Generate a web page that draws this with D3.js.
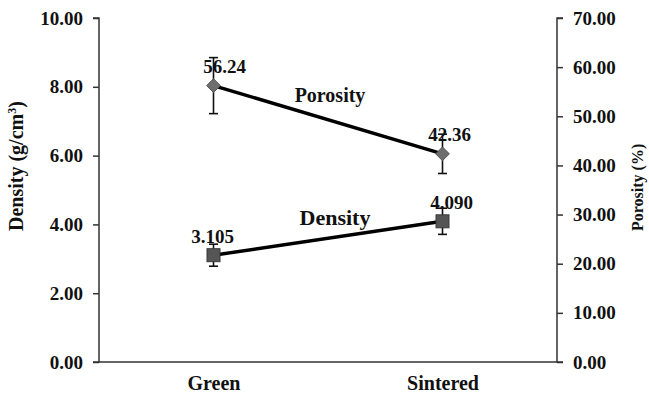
<!DOCTYPE html>
<html>
<head>
<meta charset="utf-8">
<script src="https://cdn.jsdelivr.net/npm/d3@7"></script>
<style>
  html, body { margin: 0; padding: 0; background: #fff; }
  svg { display: block; }
  text { font-family: "Liberation Serif", "Times New Roman", serif; font-weight: bold; fill: #111; }
</style>
</head>
<body>
<svg id="chart" width="649" height="393"></svg>
<script>
// Sample states and measured values
const categories = ["Green", "Sintered"];
const density = [3.105, 4.090];          // g/cm3
const densityErr = [0.32, 0.38];
const porosity = [56.24, 42.36];         // %
const porosityErr = [5.7, 4.0];
const densityLabels = ["3.105", "4.090"];
const porosityLabels = ["56.24", "42.36"];
const densityTicks = [0, 2, 4, 6, 8, 10];
const porosityTicks = [0, 10, 20, 30, 40, 50, 60, 70];

const svg = d3.select("#chart");
const plotLeft = 99, plotRight = 557, plotTop = 18, plotBottom = 362;

const x = d3.scalePoint().domain(categories).range([plotLeft, plotRight]).padding(0.5);
const yD = d3.scaleLinear().domain([0, 10]).range([plotBottom, plotTop]);
const yP = d3.scaleLinear().domain([0, 70]).range([plotBottom, plotTop]);

const axisColor = "#333";
const fs = 19;

// Left axis (density)
const gL = svg.append("g").attr("transform", `translate(${plotLeft},0)`)
  .call(d3.axisLeft(yD).tickValues(densityTicks).tickFormat(d3.format(".2f")).tickSize(6).tickPadding(10));
// Right axis (porosity)
const gR = svg.append("g").attr("transform", `translate(${plotRight},0)`)
  .call(d3.axisRight(yP).tickValues(porosityTicks).tickFormat(d3.format(".2f")).tickSize(6).tickPadding(10));
[gL, gR].forEach(g => {
  g.select(".domain").attr("stroke", axisColor).attr("stroke-width", 1.5)
    .attr("d", g === gL ? `M-6,${plotTop}H0V${plotBottom}H-6` : `M6,${plotTop}H0V${plotBottom}H6`);
  g.selectAll(".tick line").attr("stroke", axisColor).attr("stroke-width", 1.5);
  g.selectAll(".tick text").attr("font-size", fs).attr("fill", "#111")
    .attr("font-family", "Liberation Serif, serif").attr("font-weight", "bold");
});

// Category axis
const gX = svg.append("g").attr("transform", `translate(0,${plotBottom})`)
  .call(d3.axisBottom(x).tickSize(0).tickPadding(14));
gX.select(".domain").attr("stroke", axisColor).attr("stroke-width", 1.5)
  .attr("d", `M${plotLeft},0H${plotRight}`);
gX.selectAll(".tick text").attr("font-size", fs + 1).attr("fill", "#111")
  .attr("font-family", "Liberation Serif, serif").attr("font-weight", "bold");

// Axis titles
const dTitle = svg.append("text")
  .attr("transform", `translate(23,231) rotate(-90)`)
  .attr("font-size", fs + 1);
dTitle.append("tspan").text("Density (g/cm");
dTitle.append("tspan").attr("font-size", 12).attr("dy", -7).text("3");
dTitle.append("tspan").attr("dy", 7).text(")");

svg.append("text")
  .attr("transform", `translate(643,231) rotate(-90)`)
  .attr("font-size", fs - 3)
  .text("Porosity (%)");

// Series lines
const lineD = d3.line().x((d, i) => x(categories[i])).y(d => yD(d));
const lineP = d3.line().x((d, i) => x(categories[i])).y(d => yP(d));
svg.append("path").attr("d", lineP(porosity)).attr("fill", "none")
  .attr("stroke", "#000").attr("stroke-width", 3.5);
svg.append("path").attr("d", lineD(density)).attr("fill", "none")
  .attr("stroke", "#000").attr("stroke-width", 3.5);

// Error bars
function errorBars(vals, errs, y) {
  const g = svg.append("g").attr("stroke", "#111").attr("stroke-width", 1.6);
  vals.forEach((v, i) => {
    const cx = x(categories[i]);
    const y0 = y(v - errs[i]), y1 = y(v + errs[i]);
    g.append("line").attr("x1", cx).attr("x2", cx).attr("y1", y0).attr("y2", y1);
    g.append("line").attr("x1", cx - 4.5).attr("x2", cx + 4.5).attr("y1", y0).attr("y2", y0);
    g.append("line").attr("x1", cx - 4.5).attr("x2", cx + 4.5).attr("y1", y1).attr("y2", y1);
  });
}
errorBars(porosity, porosityErr, yP);
errorBars(density, densityErr, yD);

// Markers
svg.append("g").selectAll("path").data(porosity).join("path")
  .attr("transform", (d, i) => `translate(${x(categories[i])},${yP(d)})`)
  .attr("d", d3.symbol(d3.symbolDiamond2, 120))
  .attr("fill", "#6e6e6e").attr("stroke", "#555").attr("stroke-width", 1);
svg.append("g").selectAll("rect").data(density).join("rect")
  .attr("x", (d, i) => x(categories[i]) - 6.5).attr("y", d => yD(d) - 6.5)
  .attr("width", 13).attr("height", 13)
  .attr("fill", "#555").attr("stroke", "#3a3a3a").attr("stroke-width", 1);

// Value labels
svg.append("g").selectAll("text").data(porosity).join("text")
  .attr("x", (d, i) => x(categories[i]) + (i === 0 ? 11 : 7)).attr("y", d => yP(d) - 13)
  .attr("text-anchor", "middle").attr("font-size", fs)
  .text((d, i) => porosityLabels[i]);
svg.append("g").selectAll("text").data(density).join("text")
  .attr("x", (d, i) => x(categories[i]) + (i === 0 ? -1 : 9)).attr("y", d => yD(d) - 12)
  .attr("text-anchor", "middle").attr("font-size", fs)
  .text((d, i) => densityLabels[i]);

// Series names
const midX = (x(categories[0]) + x(categories[1])) / 2;
svg.append("text").attr("x", midX + 2).attr("y", 102).attr("text-anchor", "middle")
  .attr("font-size", fs + 1).text("Porosity");
svg.append("text").attr("x", midX + 7).attr("y", 225).attr("text-anchor", "middle")
  .attr("font-size", fs + 3).text("Density");
</script>
</body>
</html>
